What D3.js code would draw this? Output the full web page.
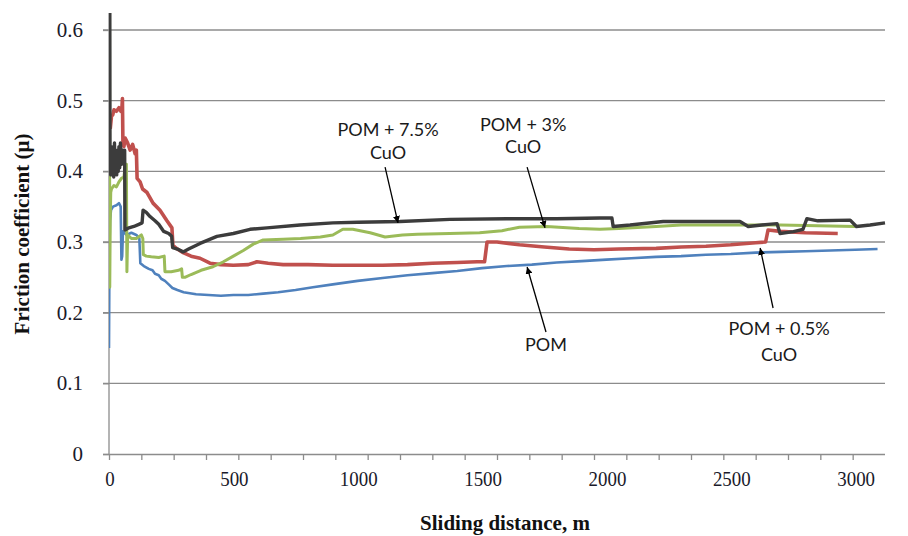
<!DOCTYPE html>
<html>
<head>
<meta charset="utf-8">
<script src="https://cdn.jsdelivr.net/npm/d3@7/dist/d3.min.js"></script>
<style>
  html, body { margin: 0; padding: 0; background: #fff; }
  svg { display: block; }
</style>
</head>
<body>
<svg id="chart" width="908" height="536"></svg>
<script>
// ---------------- DATA ----------------
const xTickLabels = [0, 500, 1000, 1500, 2000, 2500, 3000];
const yTickLabels = [0, 0.1, 0.2, 0.3, 0.4, 0.5, 0.6];
const xMinorStep = 130;   // Excel category-axis tick spacing
const xMax = 3120;
const yMaxVisible = 0.624;

// POM (blue)
const pom = [[0,0.15],[2,0.29],[4,0.33],[8,0.345],[16,0.35],[30,0.352],[40,0.355],[47,0.35],[50,0.275],[53,0.28],[56,0.315],[70,0.31],[90,0.313],[110,0.31],[122,0.305],[126,0.27],[140,0.266],[160,0.262],[175,0.26],[185,0.255],[200,0.253],[210,0.248],[225,0.245],[240,0.24],[255,0.235],[275,0.232],[300,0.229],[350,0.226],[400,0.225],[450,0.224],[500,0.225],[560,0.225],[620,0.227],[680,0.229],[750,0.232],[820,0.236],[900,0.240],[1000,0.245],[1100,0.249],[1200,0.253],[1300,0.256],[1400,0.259],[1500,0.263],[1600,0.266],[1700,0.268],[1800,0.271],[1900,0.273],[2000,0.275],[2100,0.277],[2200,0.279],[2300,0.28],[2400,0.282],[2500,0.283],[2600,0.285],[2700,0.286],[2800,0.287],[2900,0.288],[3000,0.289],[3090,0.29]];

// POM + 0.5% CuO (red)
const cuo05 = [[5,0.46],[10,0.478],[15,0.48],[20,0.487],[30,0.485],[40,0.49],[48,0.485],[52,0.49],[54,0.503],[56,0.44],[60,0.435],[65,0.447],[75,0.44],[85,0.43],[95,0.438],[105,0.425],[110,0.43],[113,0.39],[125,0.385],[135,0.375],[153,0.37],[177,0.355],[205,0.345],[233,0.33],[253,0.32],[257,0.295],[275,0.29],[298,0.285],[330,0.28],[366,0.277],[406,0.27],[450,0.268],[500,0.267],[560,0.268],[595,0.272],[640,0.27],[700,0.268],[800,0.268],[900,0.267],[1000,0.267],[1100,0.267],[1200,0.268],[1300,0.27],[1400,0.271],[1480,0.272],[1510,0.272],[1520,0.30],[1560,0.30],[1650,0.296],[1750,0.293],[1850,0.29],[1950,0.289],[2050,0.29],[2200,0.291],[2300,0.293],[2400,0.294],[2500,0.296],[2600,0.299],[2640,0.3],[2650,0.317],[2700,0.315],[2800,0.313],[2930,0.312]];

// POM + 3% CuO (green)
const cuo3 = [[0,0.7],[2,0.7],[3,0.236],[5,0.33],[7,0.37],[10,0.375],[20,0.38],[30,0.378],[40,0.385],[50,0.39],[60,0.392],[66,0.41],[70,0.41],[72,0.258],[75,0.31],[90,0.305],[110,0.305],[130,0.31],[136,0.305],[138,0.282],[150,0.28],[170,0.279],[200,0.278],[222,0.28],[225,0.258],[250,0.258],[280,0.26],[292,0.262],[295,0.25],[305,0.25],[330,0.254],[370,0.26],[418,0.265],[460,0.272],[500,0.28],[540,0.288],[580,0.297],[620,0.303],[700,0.304],[770,0.305],[850,0.307],[900,0.31],[940,0.318],[980,0.318],[1050,0.313],[1110,0.307],[1180,0.31],[1240,0.311],[1370,0.312],[1490,0.313],[1580,0.316],[1650,0.321],[1760,0.322],[1890,0.319],[1974,0.318],[2050,0.319],[2200,0.322],[2300,0.324],[2500,0.324],[2700,0.324],[2850,0.323],[3000,0.322]];

// POM + 7.5% CuO (dark grey)
const cuo75 = [[0,0.7],[3,0.7],[4,0.42],[7,0.395],[10,0.435],[13,0.40],[16,0.43],[19,0.392],[22,0.44],[25,0.40],[28,0.425],[31,0.395],[34,0.43],[37,0.40],[40,0.435],[43,0.405],[46,0.44],[50,0.41],[55,0.43],[60,0.415],[63,0.43],[64,0.317],[80,0.32],[100,0.322],[120,0.325],[133,0.327],[137,0.345],[150,0.342],[165,0.336],[185,0.33],[200,0.325],[220,0.315],[240,0.312],[252,0.308],[256,0.292],[275,0.29],[298,0.286],[320,0.29],[366,0.298],[434,0.308],[500,0.312],[567,0.318],[635,0.32],[768,0.324],[900,0.327],[1000,0.328],[1170,0.329],[1371,0.332],[1600,0.333],[1800,0.333],[1974,0.334],[2022,0.334],[2027,0.322],[2095,0.324],[2228,0.329],[2400,0.329],[2537,0.329],[2570,0.322],[2650,0.325],[2686,0.326],[2698,0.312],[2752,0.3146],[2790,0.318],[2806,0.333],[2850,0.33],[2980,0.331],[3005,0.322],[3060,0.324],[3120,0.327]];

const seriesNames = ["POM", "POM + 0.5% CuO", "POM + 3% CuO", "POM + 7.5% CuO"];
const seriesData = [pom, cuo05, cuo3, cuo75];
const seriesColors = ["#4F81BD", "#C0504D", "#9BBB59", "#3C3C3C"];
const seriesWidths = [2.6, 3.6, 3, 3.4];

// annotations: [text lines, text anchor (distance, mu), arrow from, arrow to]
const annotations = [
  { lines: ["POM + 7.5%", "CuO"], at: [1122, 0.450], gap: 0.0325, from: [1110, 0.406], to: [1162, 0.327] },
  { lines: ["POM + 3%", "CuO"],   at: [1665, 0.457], gap: 0.031,  from: [1681, 0.406], to: [1753, 0.320] },
  { lines: ["POM"],               at: [1757, 0.1457], gap: 0,     from: [1757, 0.1726], to: [1681, 0.2646] },
  { lines: ["POM + 0.5%", "CuO"], at: [2694, 0.1684], gap: 0.0368, from: [2670, 0.2066], to: [2618, 0.2915] }
];

// ---------------- DRAWING ----------------
const svg = d3.select("#chart");
svg.append("rect").attr("width", 908).attr("height", 536).attr("fill", "#fff");

const x = d3.scaleLinear().domain([0, xMax]).range([109, 885]);
const y = d3.scaleLinear().domain([0, 0.6]).range([454, 30]);

const gridColor = "#8C8C8C";

// gridlines
svg.append("g").selectAll("line")
  .data(yTickLabels.filter(v => v > 0))
  .join("line")
  .attr("x1", x(0) - 6).attr("x2", x(xMax))
  .attr("y1", d => y(d)).attr("y2", d => y(d))
  .attr("stroke", gridColor).attr("stroke-width", 1.3);

// y axis
const yAxis = d3.axisLeft(y).tickValues(yTickLabels).tickSize(6).tickFormat("");
const gy = svg.append("g").attr("transform", `translate(${x(0)},0)`).call(yAxis);
gy.select(".domain").remove();
gy.selectAll(".tick line").attr("stroke", gridColor).attr("stroke-width", 1.3);
svg.append("line")
  .attr("x1", x(0)).attr("x2", x(0))
  .attr("y1", y(0)).attr("y2", y(yMaxVisible))
  .attr("stroke", gridColor).attr("stroke-width", 1.3);

// y tick labels
svg.append("g").selectAll("text")
  .data(yTickLabels)
  .join("text")
  .attr("x", 83).attr("y", d => y(d) + 7)
  .attr("text-anchor", "end")
  .attr("font-family", "'Liberation Serif', 'Times New Roman', serif")
  .attr("font-size", 21)
  .attr("fill", "#1a1a2a")
  .text(d => d === 0 ? "0" : d3.format(".1f")(d));

// x axis
const xMinor = d3.range(0, 3000, xMinorStep);
const xAxis = d3.axisBottom(x).tickValues(xMinor).tickSize(6).tickFormat("").tickSizeOuter(0);
const gx = svg.append("g").attr("transform", `translate(0,${y(0)})`).call(xAxis);
gx.select(".domain").attr("stroke", gridColor).attr("stroke-width", 1.3)
  .attr("d", `M${x(0) - 6},0.5H${x(xMax)}`);
gx.selectAll(".tick line").attr("stroke", gridColor).attr("stroke-width", 1.3);

// x tick labels
svg.append("g").selectAll("text")
  .data(xTickLabels)
  .join("text")
  .attr("transform", d => `translate(${x(d) + 1},486) scale(0.9,1)`)
  .attr("text-anchor", "middle")
  .attr("font-family", "'Liberation Serif', 'Times New Roman', serif")
  .attr("font-size", 21)
  .attr("fill", "#1a1a2a")
  .text(d => d);

// axis titles
svg.append("text")
  .attr("x", 505).attr("y", 530)
  .attr("text-anchor", "middle")
  .attr("font-family", "'Liberation Serif', 'Times New Roman', serif")
  .attr("font-weight", "bold")
  .attr("font-size", 21)
  .attr("fill", "#111")
  .text("Sliding distance, m");

svg.append("text")
  .attr("transform", "translate(29,234) rotate(-90)")
  .attr("text-anchor", "middle")
  .attr("font-family", "'Liberation Serif', 'Times New Roman', serif")
  .attr("font-weight", "bold")
  .attr("font-size", 21)
  .attr("fill", "#111")
  .text("Friction coefficient  (\u03bc)");

// clip
svg.append("clipPath").attr("id", "plotclip")
  .append("rect")
  .attr("x", x(0)).attr("y", y(yMaxVisible))
  .attr("width", x(xMax) - x(0) + 2).attr("height", y(0) - y(yMaxVisible));

const line = d3.line().x(d => x(d[0])).y(d => y(d[1]));
svg.append("g").attr("clip-path", "url(#plotclip)")
  .selectAll("path")
  .data(seriesData)
  .join("path")
  .attr("d", d => line(d))
  .attr("fill", "none")
  .attr("stroke", (d, i) => seriesColors[i])
  .attr("stroke-width", (d, i) => seriesWidths[i])
  .attr("stroke-linejoin", "round");

// annotations
svg.append("defs").append("marker")
  .attr("id", "arrowhead")
  .attr("viewBox", "0 0 10 10")
  .attr("refX", 10).attr("refY", 5)
  .attr("markerWidth", 7).attr("markerHeight", 7)
  .attr("markerUnits", "userSpaceOnUse")
  .attr("orient", "auto")
  .append("path").attr("d", "M0,0 L10,5 L0,10 z").attr("fill", "#000");

const ann = svg.append("g");
annotations.forEach(a => {
  ann.append("line")
    .attr("x1", x(a.from[0])).attr("y1", y(a.from[1]))
    .attr("x2", x(a.to[0])).attr("y2", y(a.to[1]))
    .attr("stroke", "#000").attr("stroke-width", 1.3)
    .attr("marker-end", "url(#arrowhead)");
  a.lines.forEach((t, j) => {
    ann.append("text")
      .attr("x", x(a.at[0])).attr("y", y(a.at[1] - j * a.gap))
      .attr("text-anchor", "middle")
      .attr("font-family", "Lato, 'Liberation Sans', sans-serif")
      .attr("font-size", 18)
      .attr("fill", "#1a1a1a")
      .text(t);
  });
});
</script>
</body>
</html>
